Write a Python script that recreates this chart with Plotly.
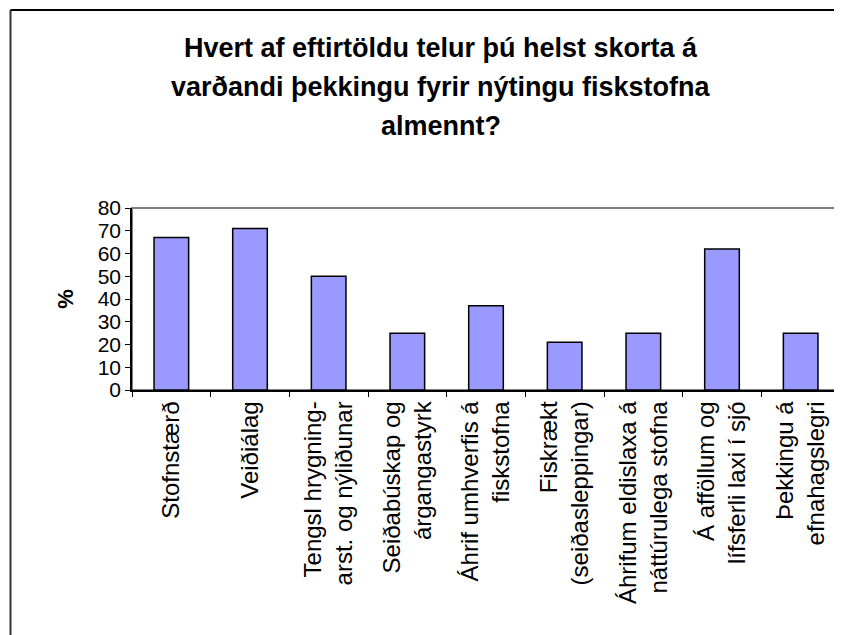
import plotly.graph_objects as go

categories = [
    "Stofnstærð",
    "Veiðiálag",
    "Tengsl hrygning-<br>arst. og nýliðunar",
    "Seiðabúskap og<br>árgangastyrk",
    "Áhrif umhverfis á<br>fiskstofna",
    "Fiskrækt<br>(seiðasleppingar)",
    "Áhrifum eldislaxa á<br>náttúrulega stofna",
    "Á afföllum og<br>lífsferli laxi í sjó",
    "Þekkingu á<br>efnahagslegri",
]
percent = [67, 71, 50, 25, 37, 21, 25, 62, 25]
y_ticks = [0, 10, 20, 30, 40, 50, 60, 70, 80]
title_lines = [
    "Hvert af eftirtöldu telur þú helst skorta á",
    "varðandi þekkingu fyrir nýtingu fiskstofna",
    "almennt?",
]

FONT = "Liberation Sans, Arial, sans-serif"

fig = go.Figure(go.Bar(
    x=categories,
    y=percent,
    width=0.44,
    marker=dict(color="#9999FF", line=dict(color="black", width=1.5)),
))

# plot area border (grey top/right), outer frame (left/top only)
fig.add_shape(type="rect", xref="x domain", yref="y domain", x0=0, x1=1, y0=0, y1=1,
              line=dict(color="#808080", width=2), layer="below")
fig.add_shape(type="line", xref="paper", yref="paper", x0=-0.1716, x1=-0.1716, y0=-1.5, y1=2.088,
              line=dict(color="#333333", width=2))
fig.add_shape(type="line", xref="paper", yref="paper", x0=-0.1716, x1=1.05, y0=2.088, y1=2.088,
              line=dict(color="black", width=2))

# title, one annotation per line for Excel-like spacing
for i, line in enumerate(title_lines):
    fig.add_annotation(
        text=f"<b>{line}</b>", xref="paper", yref="paper",
        x=0.437, y=[1.879, 1.665, 1.451][i], xanchor="center", yanchor="middle",
        showarrow=False, font=dict(size=27, color="black"),
    )

fig.add_annotation(
    text="<b>%</b>", xref="paper", yref="paper", x=-0.095, y=0.5,
    xanchor="center", yanchor="middle", textangle=-90, showarrow=False,
    font=dict(size=22, color="black"),
)

fig.update_layout(
    width=842,
    height=635,
    margin=dict(l=124, r=10, t=200, b=253),
    paper_bgcolor="white",
    plot_bgcolor="white",
    showlegend=False,
    font=dict(family=FONT, color="black"),
)
fig.update_xaxes(
    type="category",
    tickangle=-90,
    tickfont=dict(size=24),
    showline=True, linecolor="black", linewidth=1.5,
    ticks="outside", tickson="boundaries", ticklen=5, tickcolor="black",
    showgrid=False, automargin=False,
)
fig.update_yaxes(
    range=[0, 80],
    tickvals=y_ticks,
    tickfont=dict(size=21),
    showline=True, linecolor="black", linewidth=1.5,
    ticks="outside", ticklen=5, tickcolor="black",
    showgrid=False, zeroline=False, automargin=False,
)

fig.write_html("out.html")
